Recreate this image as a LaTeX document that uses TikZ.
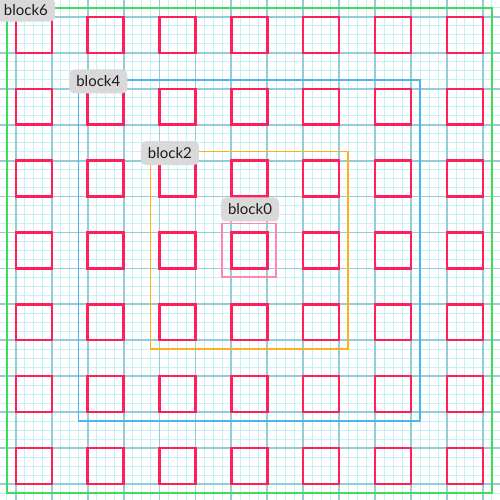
\documentclass[tikz,border=0pt]{standalone}
\usepackage{fontspec}
\setmainfont{Lato}
\definecolor{finec}{HTML}{C6F1F6}
\definecolor{majorc}{HTML}{94CCD8}
\definecolor{sqc}{HTML}{FF1F5A}
\definecolor{b0c}{HTML}{FF86AE}
\definecolor{b2c}{HTML}{FFB01F}
\definecolor{b4c}{HTML}{4DB5E8}
\definecolor{b6c}{HTML}{3EDB5C}
\definecolor{labfill}{HTML}{D9D9D9}
\definecolor{labtext}{HTML}{1A1A1A}
\tikzset{
  fineline/.style={draw=finec, line width=0.9bp},
  majorline/.style={draw=majorc, line width=1.8bp},
  redsq/.style={draw=sqc, line width=2.4bp},
  blockrect/.style={line width=1.6bp},
  blocklabel/.style={fill=labfill, rounded corners=5bp, text=labtext,
    minimum width=58bp, minimum height=24bp, inner sep=0pt,
    font=\fontsize{15bp}{17bp}\selectfont}
}
\begin{document}
\begin{tikzpicture}[x=35.93bp,y=-35.93bp]
\useasboundingbox (-0.44,-0.47) rectangle (13.476,13.445);
\clip (-0.44,-0.47) rectangle (13.476,13.445);
\fill[white] (-0.44,-0.47) rectangle (13.476,13.445);
% fine grid
\foreach \i in {-2,...,54} {
  \draw[fineline] (\i/4,-0.6) -- (\i/4,13.6);
  \draw[fineline] (-0.6,\i/4) -- (13.6,\i/4);
}
% major grid
\foreach \i in {0,...,13} {
  \draw[majorline] (\i,-0.6) -- (\i,13.6);
  \draw[majorline] (-0.6,\i) -- (13.6,\i);
}
% red squares
\foreach \r in {0,...,6} {
  \foreach \c in {0,...,6} {
    \draw[redsq] (2*\c,2*\r) rectangle (2*\c+1,2*\r+1);
  }
}
% blocks
\draw[blockrect, draw=b6c] (-0.25,-0.25) rectangle (13.25,13.25);
\draw[blockrect, draw=b4c] (1.75,1.75) rectangle (11.25,11.25);
\draw[blockrect, draw=b2c] (3.75,3.75) rectangle (9.25,9.25);
\draw[blockrect, draw=b0c, line width=1.9bp] (5.75,5.75) rectangle (7.25,7.25);
% labels
\node[blocklabel] (l6) at (0.28,-0.2) {block6};
\node[blocklabel] (l4) at (2.296,1.798) {block4};
\node[blocklabel] (l2) at (4.29,3.79) {block2};
\node[blocklabel] (l0) at (6.518,5.36) {block0};
\end{tikzpicture}
\end{document}
